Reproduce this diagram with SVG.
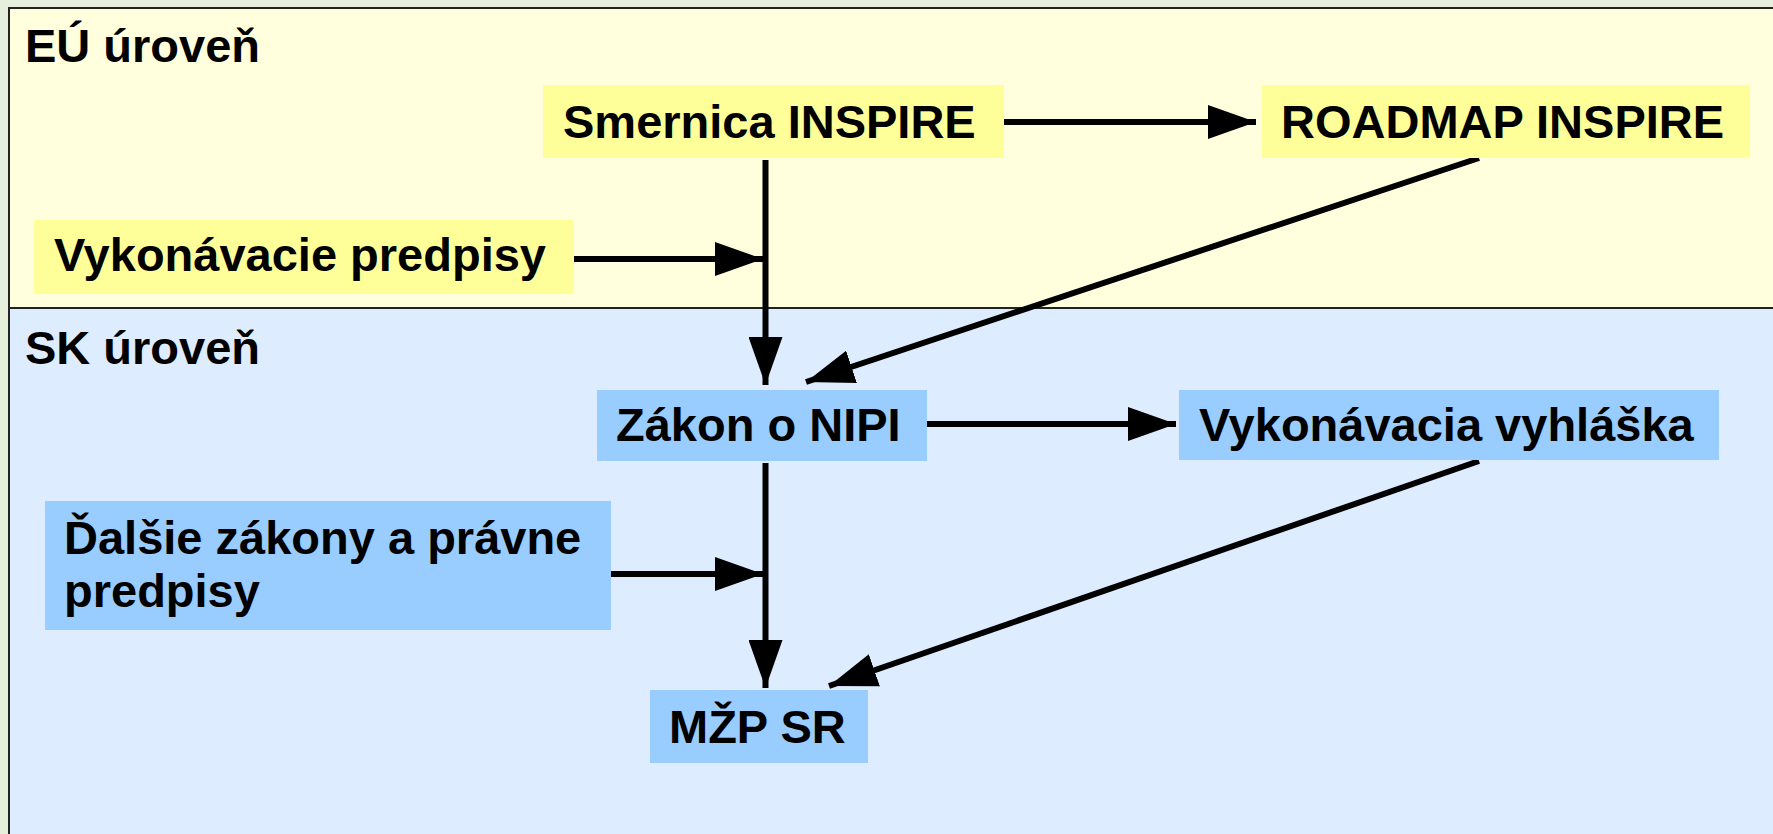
<svg xmlns="http://www.w3.org/2000/svg" width="1773" height="834" viewBox="0 0 1773 834">
<style>
.t{font-family:"Liberation Sans",Arial,sans-serif;font-weight:bold;font-size:47px;fill:#000}
.y{fill:#ffff99}
.b{fill:#99ccff}
.c{stroke:#000;stroke-width:6;fill:none}
</style>
<defs>
<marker id="ah" viewBox="0 0 48 34" refX="48" refY="17" markerWidth="48" markerHeight="34" markerUnits="userSpaceOnUse" orient="auto">
<path d="M0,0 L48,17 L0,34 z" fill="#000"/>
</marker>
</defs>
<rect x="0" y="0" width="1773" height="834" fill="#e6eedc"/>
<g id="panels">
<rect x="9" y="8" width="1780" height="300" fill="#ffffdd" stroke="#222" stroke-width="2"/>
<rect x="9" y="308" width="1780" height="540" fill="#ddecff" stroke="#222" stroke-width="2"/>
<text class="t" x="25" y="62">EÚ úroveň</text>
<text class="t" x="25" y="364">SK úroveň</text>
</g>
<g id="connectors">
<line class="c" x1="1004" y1="122" x2="1256" y2="122" marker-end="url(#ah)"/>
<line class="c" x1="765.5" y1="160" x2="765.5" y2="385" marker-end="url(#ah)"/>
<line class="c" x1="574" y1="259" x2="763" y2="259" marker-end="url(#ah)"/>
<line class="c" x1="1479" y1="158" x2="806" y2="382" marker-end="url(#ah)"/>
<line class="c" x1="927" y1="424" x2="1176" y2="424" marker-end="url(#ah)"/>
<line class="c" x1="765.5" y1="463" x2="765.5" y2="688" marker-end="url(#ah)"/>
<line class="c" x1="611" y1="574" x2="763" y2="574" marker-end="url(#ah)"/>
<line class="c" x1="1479" y1="461" x2="829" y2="686" marker-end="url(#ah)"/>
</g>
<g id="smernica">
<rect class="y" x="543" y="85" width="461" height="73"/>
<text class="t" x="563" y="138">Smernica INSPIRE</text>
</g>
<g id="roadmap">
<rect class="y" x="1262" y="85" width="488" height="73"/>
<text class="t" x="1281" y="138">ROADMAP INSPIRE</text>
</g>
<g id="vykonavacie-predpisy">
<rect class="y" x="34" y="220" width="540" height="74"/>
<text class="t" x="54" y="271">Vykonávacie predpisy</text>
</g>
<g id="zakon">
<rect class="b" x="597" y="390" width="330" height="71"/>
<text class="t" x="616" y="441">Zákon o NIPI</text>
</g>
<g id="vyhlaska">
<rect class="b" x="1179" y="390" width="540" height="70"/>
<text class="t" x="1199" y="441">Vykonávacia vyhláška</text>
</g>
<g id="dalsie">
<rect class="b" x="45" y="501" width="566" height="129"/>
<text class="t" x="64" y="554">Ďalšie zákony a právne</text>
<text class="t" x="64" y="607">predpisy</text>
</g>
<g id="mzp">
<rect class="b" x="650" y="690" width="218" height="73"/>
<text class="t" x="669" y="743">MŽP SR</text>
</g>
</svg>
